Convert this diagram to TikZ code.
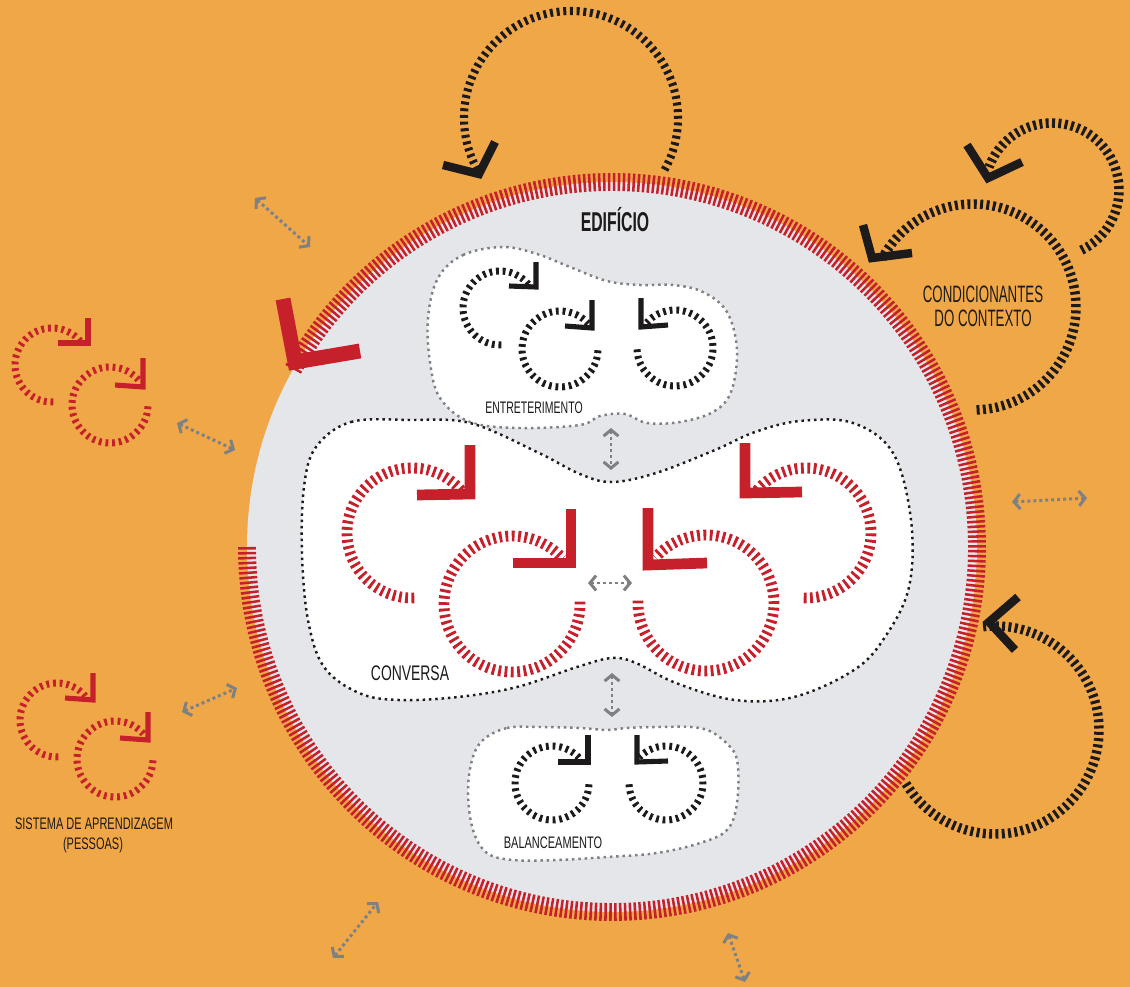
\documentclass[tikz,border=0pt]{standalone}
\usepackage{fontspec}
\setmainfont{Liberation Sans}
\usetikzlibrary{arrows.meta}
\definecolor{bg}{RGB}{240,167,72}
\definecolor{disc}{RGB}{228,230,233}
\definecolor{rd}{RGB}{198,32,43}
\definecolor{gy}{RGB}{126,129,132}
\definecolor{ink}{RGB}{28,26,26}
\newcommand\lbl[3]{\scalebox{#1}[1]{\fontsize{#2pt}{#2pt}\selectfont #3}}
\newcommand\tloop[6]{\draw[#1] (#2,#3) ++(#5:#4) arc[start angle=#5,end angle=#6,radius=#4];}
\begin{document}
\begin{tikzpicture}[x=0.02cm,y=-0.02cm,
  ring/.style={rd, line width=10.2pt, dash pattern=on 1.45pt off 1.35pt},
  tbig/.style={line width=4.6pt, dash pattern=on 1.7pt off 2.1pt},
  tmid/.style={line width=5.4pt, dash pattern=on 1.7pt off 1.9pt},
  tsml/.style={line width=4pt, dash pattern=on 1.6pt off 2.2pt},
  tcon/.style={line width=6.2pt, dash pattern=on 1.6pt off 2.0pt},
  csml/.style={line width=2.9pt, line join=miter},
  cmid/.style={line width=4.8pt, line join=miter},
  ccon/.style={line width=6.1pt, line join=miter},
  cbig/.style={line width=8.5pt, line join=miter},
  blobg/.style={fill=white, draw=gy, line width=1.4pt, dash pattern=on 1.4pt off 2.2pt},
  blobk/.style={fill=white, draw=ink, line width=1.4pt, dash pattern=on 1.4pt off 2.2pt},
  garrow/.style={gy, line width=1.7pt, dash pattern=on 1.7pt off 1.7pt,
    {Straight Barb[length=3.5pt,width=8.5pt]}-{Straight Barb[length=3.5pt,width=8.5pt]}},
  lab/.style={text=ink, inner sep=0pt}]
\useasboundingbox (0,0) rectangle (1130,987);
\fill[bg] (0,0) rectangle (1130,987);

% building disc and ring
\fill[disc] (612,547) circle[radius=365];
\tloop{ring}{612}{547}{365}{180}{-151}
\draw[cbig, rd] (283,299) -- (295,362) -- (360,351);

% blobs
\draw[blobg] plot[smooth cycle, tension=0.6] coordinates {(438,278) (463,255) (503,247) (537,254) (570,267) (607,281) (640,285) (673,285) (703,292) (727,312) (737,350) (731,392) (713,412) (680,422) (647,423) (625,414) (600,416) (580,425) (520,428) (470,422) (440,398) (430,362) (428,318)};
\draw[blobk] plot[smooth cycle, tension=0.6] coordinates {(316,447) (351,422) (410,420) (470,423) (537,452) (580,474) (612,482) (656,473) (715,450) (755,432) (800,421) (853,423) (893,453) (911,520) (909,587) (885,637) (854,670) (794,697) (735,700) (676,683) (636,663) (612,658) (577,667) (517,687) (458,697) (399,700) (359,693) (324,667) (308,620) (302,553) (304,487)};
\draw[blobg] plot[smooth cycle, tension=0.6] coordinates {(483,740) (507,728) (540,727) (580,728) (607,730) (627,728) (657,727) (700,728) (723,740) (737,760) (737,803) (727,830) (700,843) (657,853) (607,857) (557,860) (513,860) (487,853) (473,830) (468,793) (472,760)};

% entretenimento loops
\tloop{tsml,ink}{500}{308}{37}{88}{320}
\draw[csml, ink] (536,262) -- (536,287) -- (509,286);
\tloop{tsml,ink}{560}{349}{38}{2}{318}
\draw[csml, ink] (592,300) -- (592,328) -- (565,326);
\tloop{tsml,ink}{675}{348}{38}{178}{-138}
\draw[csml, ink] (641,298) -- (641,327) -- (668,325);

% conversa loops
\tloop{tcon,rd}{412}{533}{65}{88}{322}
\draw[ccon, rd] (470,445) -- (470,494) -- (417,495);
\tloop{tcon,rd}{512}{604}{68}{-2}{318}
\draw[ccon, rd] (571,509) -- (571,563) -- (513,563);
\tloop{tcon,rd}{706}{603}{68}{182}{-138}
\draw[ccon, rd] (648,508) -- (648,565) -- (707,563);
\tloop{tcon,rd}{806}{533}{65}{92}{-142}
\draw[ccon, rd] (745,443) -- (745,493) -- (802,492);

% balanceamento loops
\tloop{tsml,ink}{552}{783}{37}{2}{320}
\draw[csml, ink] (588,735) -- (588,762) -- (558,762);
\tloop{tsml,ink}{666}{783}{37}{178}{-140}
\draw[csml, ink] (637,735) -- (637,762) -- (668,761);

% outside: top loop
\tloop{tbig,ink}{571}{118}{107}{29}{-210}
\draw[cmid, ink] (443,165) -- (479,174) -- (495,142);
% condicionantes loops
\tloop{tmid,ink}{1052}{190}{67}{64}{-160}
\draw[cmid, ink] (967,145) -- (988,178) -- (1022,162);
\tloop{tmid,ink}{973}{307}{103}{88}{-152}
\draw[cmid, ink] (863,225) -- (872,258) -- (912,253);
% right loop
\tloop{tmid,ink}{995}{730}{104}{149}{-97}
\draw[cmid, ink] (1018,597) -- (989,622) -- (1015,650);

% sistema de aprendizagem loops
\tloop{tsml,rd}{52}{365}{37}{88}{322}
\draw[csml, rd] (88,318) -- (88,343) -- (58,343);
\tloop{tsml,rd}{110}{405}{38}{2}{322}
\draw[csml, rd] (143,358) -- (143,387) -- (115,385);
\tloop{tsml,rd}{57}{720}{37}{88}{322}
\draw[csml, rd] (93,673) -- (93,700) -- (65,698);
\tloop{tsml,rd}{115}{759}{38}{2}{322}
\draw[csml, rd] (148,712) -- (148,740) -- (120,738);

% grey double arrows
\coordinate (g1a) at (255,198); \coordinate (g1b) at (310,247);
\coordinate (g2a) at (177,423); \coordinate (g2b) at (235,450);
\coordinate (g3a) at (182,712); \coordinate (g3b) at (237,688);
\coordinate (g4a) at (333,958); \coordinate (g4b) at (378,902);
\coordinate (g5a) at (728,933); \coordinate (g5b) at (745,982);
\coordinate (g6a) at (1012,502); \coordinate (g6b) at (1087,498);
\coordinate (g7a) at (611,428); \coordinate (g7b) at (611,470);
\coordinate (g8a) at (588,583); \coordinate (g8b) at (632,583);
\coordinate (g9a) at (612,673); \coordinate (g9b) at (612,717);
\foreach \i in {1,...,9} {\draw[garrow] (g\i a) -- (g\i b);}

% labels
\node[lab] (edif) at (615,220) {\lbl{0.58}{15.5}{\bfseries EDIFÍCIO}};
\node[lab] (entr) at (534,408) {\lbl{0.63}{9.5}{ENTRETERIMENTO}};
\node[lab] (conv) at (410,673) {\lbl{0.66}{12}{CONVERSA}};
\node[lab] (bal) at (553,843) {\lbl{0.66}{9.5}{BALANCEAMENTO}};
\node[lab] (cond1) at (983,294) {\lbl{0.56}{13.5}{CONDICIONANTES}};
\node[lab] (cond2) at (983,318) {\lbl{0.56}{13.5}{DO CONTEXTO}};
\node[lab] (sist1) at (94,824) {\lbl{0.66}{9.5}{SISTEMA DE APRENDIZAGEM}};
\node[lab] (sist2) at (93,845) {\lbl{0.66}{9.5}{(PESSOAS)}};
\end{tikzpicture}
\end{document}
